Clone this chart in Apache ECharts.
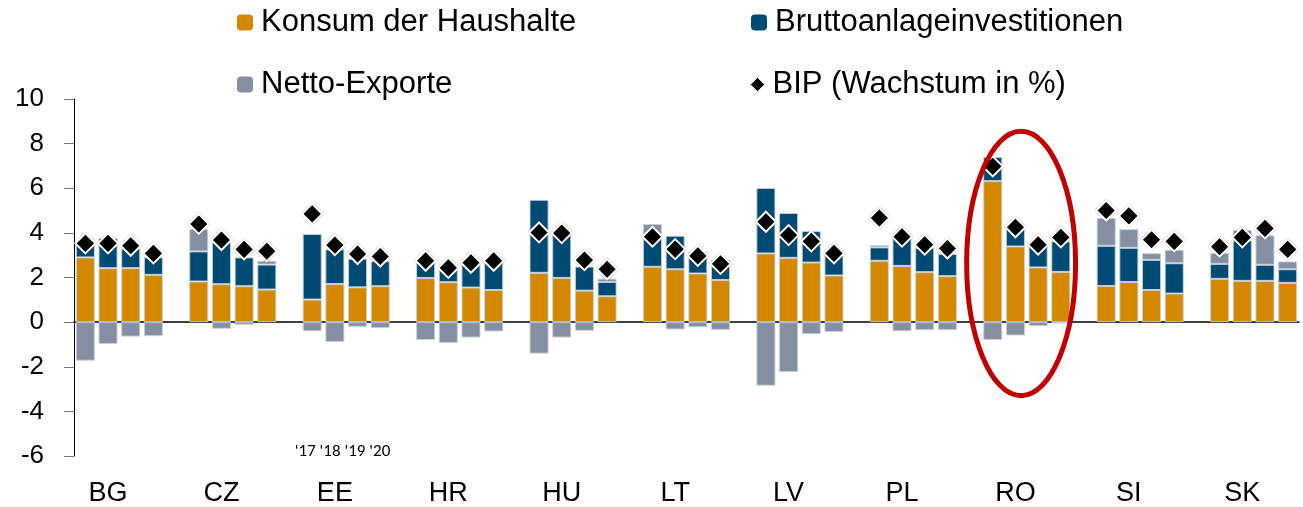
<!DOCTYPE html>
<html><head><meta charset="utf-8">
<script src="https://cdn.jsdelivr.net/npm/echarts@6/dist/echarts.min.js"></script>
<style>html,body{margin:0;padding:0;background:#fff}#c{width:1303px;height:507px}</style>
</head><body><div id="c"></div>
<script>
const countries = ['BG','CZ','EE','HR','HU','LT','LV','PL','RO','SI','SK'];
const years = ["'17","'18","'19","'20"];
const yTicks = [-6,-4,-2,0,2,4,6,8,10];
const konsum = [
  2.90,2.42,2.42,2.12, 1.82,1.70,1.61,1.46, 1.01,1.71,1.56,1.61, 1.98,1.79,1.55,1.44,
  2.21,1.98,1.41,1.16, 2.48,2.37,2.18,1.89, 3.08,2.88,2.67,2.09, 2.75,2.52,2.24,2.06,
  6.32,3.39,2.45,2.25, 1.62,1.80,1.44,1.28, 1.94,1.85,1.85,1.76];
const brutto = [
  0.57,1.35,0.87,0.78, 1.35,1.87,1.29,1.12, 2.94,1.55,1.28,1.12, 0.72,0.78,1.20,1.23,
  3.27,1.97,1.08,0.64, 1.32,1.50,0.96,0.89, 2.93,2.01,1.41,1.11, 0.60,1.28,1.08,0.99,
  1.08,0.93,0.97,1.37, 1.80,1.53,1.35,1.36, 0.67,1.81,0.72,0.61];
const netto = [
  -1.73,-0.98,-0.65,-0.63, 1.00,-0.30,-0.12,0.17, -0.41,-0.89,-0.21,-0.27, -0.80,-0.93,-0.69,-0.42,
  -1.41,-0.69,-0.39,0.15, 0.60,-0.33,-0.23,-0.35, -2.85,-2.24,-0.54,-0.44, 0.10,-0.41,-0.36,-0.36,
  -0.80,-0.60,-0.18,-0.06, 1.25,0.84,0.30,0.60, 0.48,0.47,1.32,0.35];
const bip = [
  3.53,3.53,3.42,3.08, 4.40,3.68,3.26,3.18, 4.85,3.45,3.05,2.94, 2.75,2.43,2.66,2.75,
  4.02,3.99,2.78,2.37, 3.83,3.27,2.97,2.61, 4.50,3.90,3.62,3.08, 4.67,3.83,3.47,3.30,
  6.98,4.25,3.47,3.80, 5.00,4.76,3.69,3.62, 3.38,3.80,4.20,3.26];

// build slotted category axis: 4 years per country + spacer
const cats = [];
const idxMap = [];
countries.forEach((c, ci) => {
  years.forEach((y, yi) => { cats.push(c + y); idxMap.push(ci * 4 + yi); });
  if (ci < countries.length - 1) { cats.push('gap' + ci); idxMap.push(-1); }
});
const expand = arr => idxMap.map(i => i < 0 ? '-' : arr[i]);

const FONT = 'Liberation Sans, Arial, sans-serif';
const C_K = '#D38800', C_B = '#004B74', C_N = '#8490A2';
const border = { borderColor: 'rgba(200,208,220,0.9)', borderWidth: 1 };

const chart = echarts.init(document.getElementById('c'));
const legendBase = { padding: 0, itemWidth: 16, itemHeight: 16, selectedMode: false,
  itemStyle: { borderWidth: 0 },
  textStyle: { fontSize: 31, color: '#000', fontFamily: FONT, padding: [0,0,0,3] } };
chart.setOption({
  animation: false,
  grid: { left: 74, right: 4, top: 99, bottom: 51 },
  legend: [
    Object.assign({}, legendBase, { data: ['Konsum der Haushalte'], left: 237, top: 7 }),
    Object.assign({}, legendBase, { data: ['Bruttoanlageinvestitionen'], left: 751, top: 7 }),
    Object.assign({}, legendBase, { data: ['Netto-Exporte'], left: 237, top: 69 }),
    Object.assign({}, legendBase, { data: [{ name: 'BIP (Wachstum in %)', icon: 'diamond',
      itemStyle: { color: '#000', borderColor: '#ddd', borderWidth: 1, opacity: 1 } }],
      left: 750, top: 69, itemWidth: 14, itemHeight: 14 })
  ],
  xAxis: [
    { type: 'category', data: cats, axisLine: { onZero: true, lineStyle: { color: '#000', width: 1.5 } },
      axisTick: { show: false }, axisLabel: { show: false } },
    { type: 'category', data: cats, position: 'bottom', axisLine: { show: false, onZero: false },
      axisTick: { show: false },
      axisLabel: { interval: 0, margin: 24, fontSize: 27, color: '#000', fontFamily: FONT,
        formatter: (v, i) => (i % 5 === 1 ? countries[(i - 1) / 5] : '') } }
  ],
  yAxis: {
    type: 'value', min: yTicks[0], max: yTicks[yTicks.length - 1], interval: 2,
    axisLine: { show: true, lineStyle: { color: '#000', width: 1 } },
    axisTick: { show: true, length: 10, lineStyle: { color: '#777' } },
    splitLine: { show: false },
    axisLabel: { fontSize: 26, color: '#000', fontFamily: FONT, margin: 30 }
  },
  series: [
    { name: 'Konsum der Haushalte', type: 'bar', stack: 's', data: expand(konsum),
      barCategoryGap: '16%', itemStyle: Object.assign({ color: C_K }, border) },
    { name: 'Bruttoanlageinvestitionen', type: 'bar', stack: 's', data: expand(brutto),
      itemStyle: Object.assign({ color: C_B }, border) },
    { name: 'Netto-Exporte', type: 'bar', stack: 's', data: expand(netto),
      itemStyle: Object.assign({ color: C_N }, border) },
    { name: 'BIP (Wachstum in %)', type: 'scatter', data: expand(bip), symbol: 'diamond',
      symbolSize: 20, z: 5,
      itemStyle: { color: '#000', opacity: 1, borderColor: '#fff', borderWidth: 2,
        shadowColor: 'rgba(0,0,0,0.25)', shadowBlur: 2 } }
  ]
});

// annotations: year hint under EE and red ellipse around RO
const px = i => chart.convertToPixel({ xAxisIndex: 0 }, i);
const py = v => chart.convertToPixel({ yAxisIndex: 0 }, v);
const step = px(1) - px(0);
const eeLast = cats.indexOf('EE' + years[3]);
const roFirst = cats.indexOf('RO' + years[0]);
const cx = px(roFirst) + 1.25 * step;
const yTop = py(8.55), yBot = py(-3.3);
chart.setOption({
  graphic: [
    { type: 'text', x: px(eeLast) + 10, y: py(-5.8), style: { text: years.join(' '),
      fontSize: 17, fill: '#000', fontFamily: 'Carlito, ' + FONT, align: 'right', verticalAlign: 'middle' } },
    { type: 'ellipse', shape: { cx: cx, cy: (yTop + yBot) / 2, rx: 2.4 * step, ry: (yBot - yTop) / 2 },
      style: { fill: 'none', stroke: '#C00000', lineWidth: 5 }, z: 10 }
  ]
});
</script></body></html>
